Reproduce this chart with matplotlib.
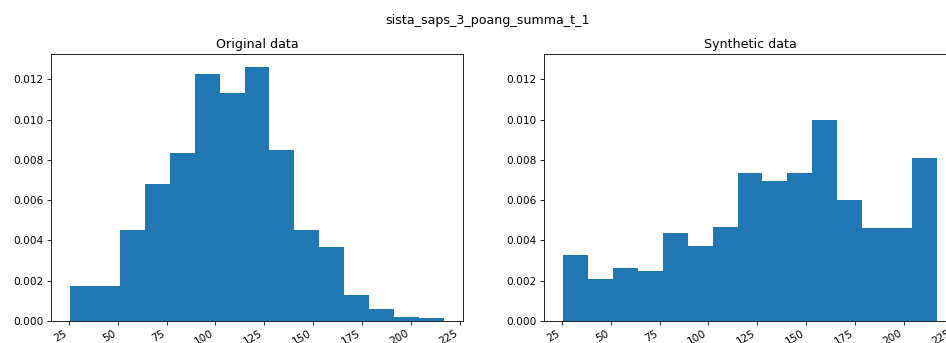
import numpy as np
import matplotlib
matplotlib.use("Agg")
import matplotlib.pyplot as plt

# bin range (15 equal bins)
x_min, x_max, n_bins = 25.5, 217.0, 15

original_density = [0.00175, 0.00175, 0.00450, 0.00678, 0.00833, 0.01225, 0.01132,
                     0.01262, 0.00850, 0.00450, 0.00367, 0.00128, 0.00058, 0.00022, 0.00013]
synthetic_density = [0.00328, 0.00208, 0.00264, 0.00248, 0.00437, 0.00372, 0.00467,
                     0.00736, 0.00695, 0.00736, 0.00996, 0.00600, 0.00460, 0.00460, 0.00811]

panel_titles = ["Original data", "Synthetic data"]
fig_title = "sista_saps_3_poang_summa_t_1"

dpi = 76
fig = plt.figure(figsize=(946 / dpi, 343 / dpi), dpi=dpi)

edges = np.linspace(x_min, x_max, n_bins + 1)
centers = (edges[:-1] + edges[1:]) / 2

ax1 = fig.add_axes([51 / 946, 1 - 321 / 343, 412 / 946, 267 / 343])
ax2 = fig.add_axes([544 / 946, 1 - 321 / 343, 412 / 946, 267 / 343], sharey=ax1)

for ax, vals, title in zip([ax1, ax2], [original_density, synthetic_density], panel_titles):
    ax.hist(centers, bins=edges, weights=vals, color="#1f77b4")
    ax.set_title(title)
    ax.set_xticks([25, 50, 75, 100, 125, 150, 175, 200, 225])
    for lbl in ax.get_xticklabels():
        lbl.set_rotation(30)
        lbl.set_ha("right")

ax2.tick_params(labelleft=True)
fig.suptitle(fig_title, x=487.5 / 946, y=1 - 14 / 343)

fig.savefig("out.png", dpi=dpi)
